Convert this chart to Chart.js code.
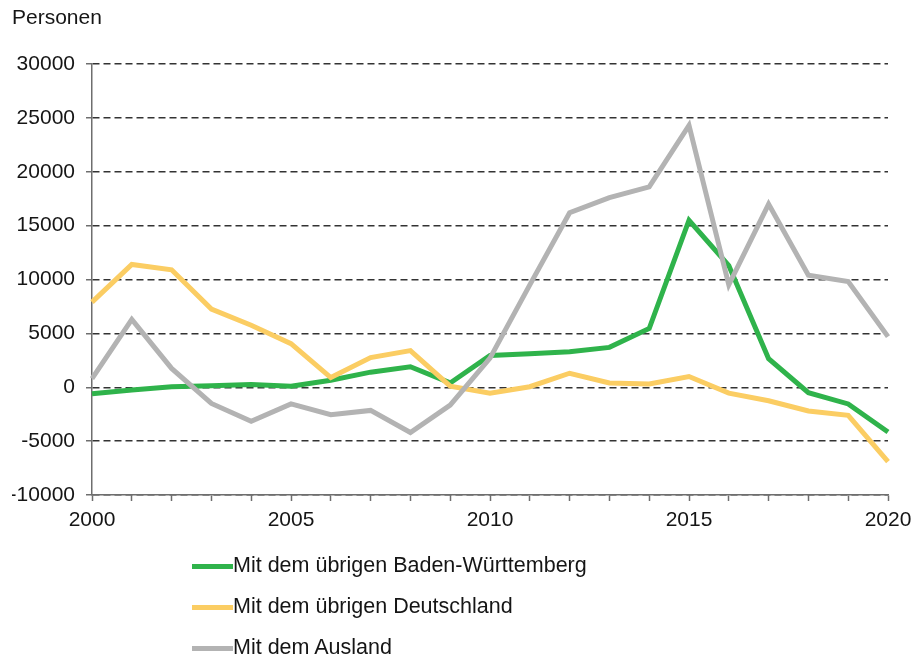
<!DOCTYPE html>
<html>
<head>
<meta charset="utf-8">
<script src="https://cdn.jsdelivr.net/npm/chart.js@4.4.1/dist/chart.umd.min.js"></script>
<style>
  html, body { margin: 0; padding: 0; background: #fff; }
  body { width: 923px; height: 659px; position: relative; overflow: hidden; font-family: 'Liberation Sans', Arial, sans-serif; color: #151515; }
  #wrap { position: absolute; left: 0; top: 0; width: 923px; height: 659px; }
  #unit { position: absolute; left: 12px; top: 5px; font-size: 21px; }
  #legend { position: absolute; left: 192px; top: 546px; font-size: 21.5px; }
  .item { height: 41px; display: flex; align-items: center; }
  .item span.sw { display: inline-block; width: 41px; height: 5px; margin-right: 0; }
  .item span.lbl { line-height: 24px; position: relative; top: -2px; }
</style>
</head>
<body>
<div id="wrap"><canvas id="chart" width="923" height="659"></canvas></div>
<div id="unit">Personen</div>
<div id="legend"></div>
<script>
const years = [2000, 2001, 2002, 2003, 2004, 2005, 2006, 2007, 2008, 2009, 2010,
               2011, 2012, 2013, 2014, 2015, 2016, 2017, 2018, 2019, 2020];
const badenWuerttemberg = [-600, -250, 50, 150, 250, 100, 650, 1400, 1900, 400, 2950,
                           3100, 3300, 3700, 5450, 15500, 11300, 2650, -500, -1550, -4150];
const deutschland = [7900, 11400, 10900, 7250, 5750, 4050, 900, 2750, 3400, 100, -550,
                     50, 1300, 400, 300, 1000, -550, -1250, -2200, -2600, -6900];
const ausland = [800, 6300, 1750, -1500, -3150, -1550, -2550, -2150, -4200, -1650, 2700,
                 9500, 16200, 17600, 18600, 24300, 9500, 17000, 10400, 9800, 4700];
const yTicks = [-10000, -5000, 0, 5000, 10000, 15000, 20000, 25000, 30000];
const labelYears = [2000, 2005, 2010, 2015, 2020];

const seriesNames = ['Mit dem übrigen Baden-Württemberg', 'Mit dem übrigen Deutschland', 'Mit dem Ausland'];
const seriesColors = ['#2fb34b', '#fbcd63', '#b3b3b3'];
const seriesData = [badenWuerttemberg, deutschland, ausland];

const font = { family: "'Liberation Sans', Arial, sans-serif", size: 21 };

new Chart(document.getElementById('chart').getContext('2d'), {
    type: 'line',
    data: {
        labels: years,
        datasets: seriesData.map((d, i) => ({
            label: seriesNames[i],
            data: d,
            borderColor: seriesColors[i],
            backgroundColor: seriesColors[i],
            borderWidth: 5,
            tension: 0,
            pointRadius: 0,
            fill: false,
            order: 3 - i
        }))
    },
    options: {
        responsive: false,
        animation: false,
        layout: { padding: { left: 12, right: 35, top: 64, bottom: 124 } },
        plugins: {
            legend: { display: false },
            tooltip: { enabled: false }
        },
        scales: {
            x: {
                offset: false,
                grid: {
                    drawOnChartArea: false,
                    drawTicks: true,
                    tickLength: 6,
                    tickColor: '#6e6e6e',
                    tickWidth: 1.5
                },
                border: { color: '#6e6e6e', width: 1.5 },
                ticks: {
                    autoSkip: false,
                    maxRotation: 0,
                    padding: 7,
                    color: '#151515',
                    font: font,
                    callback: function (v) {
                        const y = years[v];
                        return labelYears.includes(y) ? String(y) : '';
                    }
                },
                afterFit: s => { s.height = 40; }
            },
            y: {
                min: -10000,
                max: 30000,
                afterBuildTicks: s => { s.ticks = yTicks.map(v => ({ value: v })); },
                grid: {
                    color: '#333333',
                    lineWidth: 1.5,
                    drawTicks: true,
                    tickLength: 6,
                    tickColor: '#6e6e6e',
                    tickWidth: 1.5
                },
                border: { color: '#6e6e6e', width: 1.5, dash: [7, 4] },
                ticks: {
                    padding: 11,
                    color: '#151515',
                    font: font,
                    callback: v => String(v)
                },
                afterFit: s => { s.width = 80; }
            }
        }
    }
});

const legend = document.getElementById('legend');
seriesNames.forEach((n, i) => {
    const row = document.createElement('div');
    row.className = 'item';
    row.innerHTML = '<span class="sw" style="background:' + seriesColors[i] + '"></span><span class="lbl">' + n + '</span>';
    legend.appendChild(row);
});
</script>
</body>
</html>
